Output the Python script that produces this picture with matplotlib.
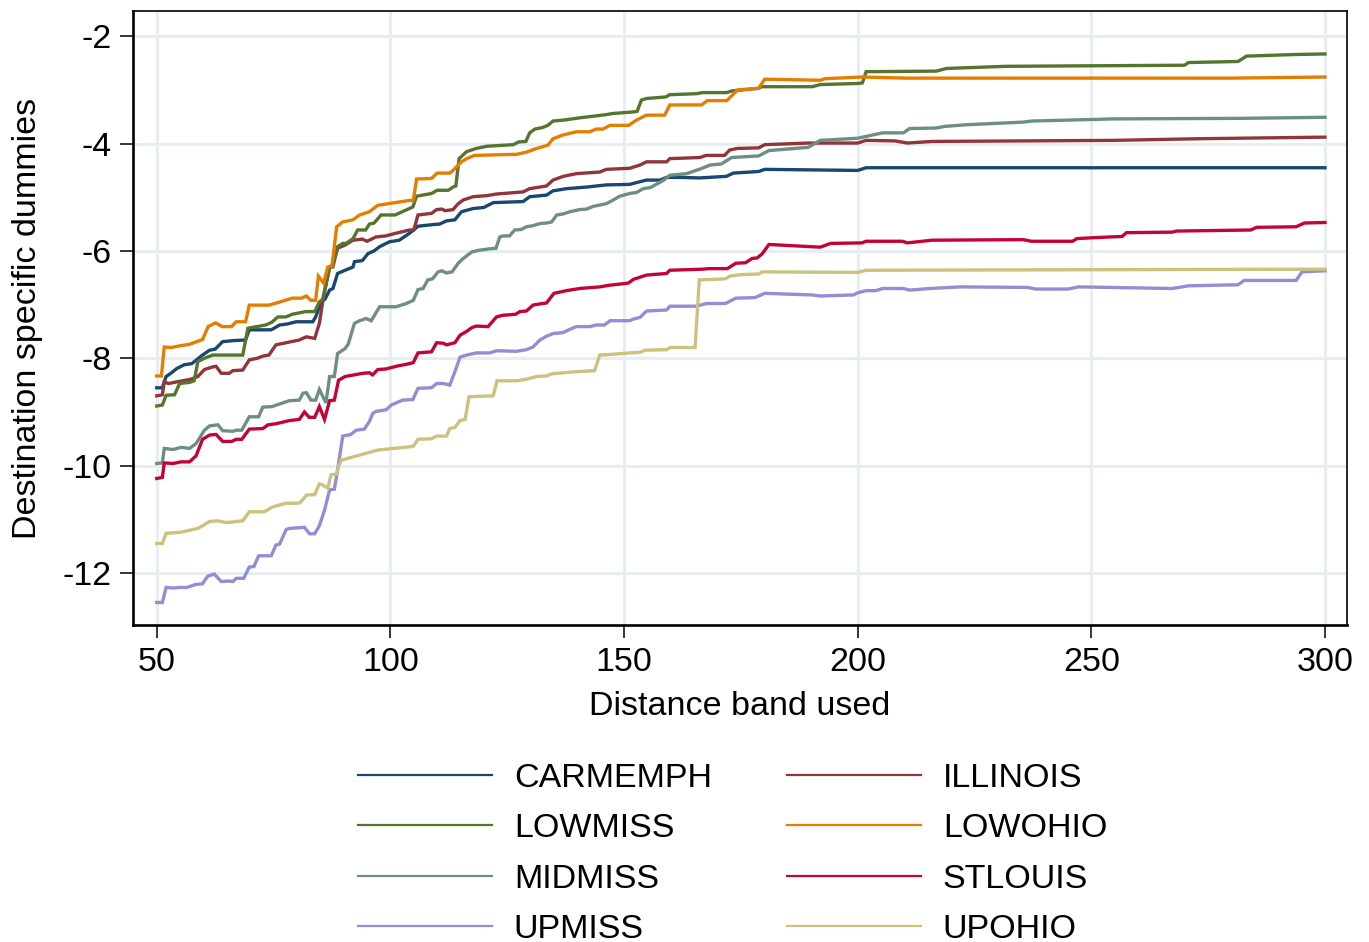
import numpy as np
import matplotlib
matplotlib.use("Agg")
import matplotlib.pyplot as plt
from matplotlib.lines import Line2D

plt.rcParams['font.family'] = ['Liberation Sans', 'DejaVu Sans']
plt.rcParams['axes.unicode_minus'] = False

# (distance band, dummy estimate) pairs per destination
carmemph = [(50,-8.55),(51.2,-8.55),(52,-8.34),(53,-8.28),(54.3,-8.19),(55.9,-8.12),(57.5,-8.1),
            (59.8,-7.94),(61.3,-7.85),(62.5,-7.83),(64.1,-7.69),(66.5,-7.67),(69,-7.66),(69.8,-7.47),
            (74.5,-7.47),(76.3,-7.38),(78,-7.36),(79.8,-7.32),(83.4,-7.32),(84,-7.23),(85.2,-6.95),
            (86,-6.9),(87,-6.73),(87.7,-6.7),(88.7,-6.42),(90.3,-6.36),(92,-6.3),(92.3,-6.2),(94,-6.18),
            (95.2,-6.05),(96.5,-6.0),(97.7,-5.92),(99.8,-5.83),(101.9,-5.8),(104.1,-5.67),(105.9,-5.54),
            (109,-5.51),(110.5,-5.5),(112,-5.44),(113.8,-5.42),(115.2,-5.27),(117.7,-5.21),(120,-5.19),
            (122,-5.1),(128.4,-5.08),(129.8,-4.99),(133.4,-4.96),(134.8,-4.88),(137.7,-4.84),(142,-4.81),
            (146.2,-4.77),(151.2,-4.76),(153.4,-4.71),(154.8,-4.68),(157.7,-4.68),(159.1,-4.63),
            (161.9,-4.63),(166.2,-4.64),(171.9,-4.61),(173.4,-4.55),(178.8,-4.52),(180.1,-4.48),
            (200,-4.5),(201.8,-4.45),(300,-4.45)]

illinois = [(50,-8.7),(51.2,-8.68),(51.6,-8.44),(52.5,-8.47),(54.3,-8.44),(57.3,-8.39),(58.8,-8.34),
            (60.2,-8.21),(62,-8.16),(62.7,-8.15),(63.8,-8.28),(65.5,-8.28),(66.3,-8.23),(68.4,-8.22),
            (69.8,-8.03),(71.5,-8.0),(72.7,-7.96),(74,-7.94),(75.5,-7.75),(77.7,-7.71),(80.5,-7.66),
            (82,-7.6),(83.8,-7.63),(84.8,-7.35),(85.5,-6.95),(86.3,-6.6),(87,-6.3),(87.7,-6.25),
            (88.7,-5.95),(90.3,-5.89),(92,-5.8),(94,-5.78),(95,-5.82),(96.9,-5.74),(99,-5.72),
            (101.2,-5.67),(104.1,-5.61),(105,-5.61),(105.9,-5.33),(108.8,-5.3),(109.9,-5.23),(111,-5.22),
            (111.7,-5.25),(113.4,-5.23),(114.5,-5.12),(115.6,-5.05),(117.7,-4.99),(120.6,-4.97),
            (122.7,-4.94),(128.4,-4.9),(129.8,-4.84),(133.4,-4.79),(134.8,-4.68),(137,-4.61),
            (139.8,-4.56),(144.8,-4.53),(146.2,-4.48),(151.2,-4.46),(153.4,-4.4),(154.8,-4.34),
            (159.1,-4.34),(159.8,-4.28),(166.2,-4.26),(167.6,-4.22),(171.5,-4.22),(172.6,-4.12),
            (174.3,-4.09),(178.8,-4.08),(180.1,-4.02),(189.4,-3.99),(200,-3.99),(201.8,-3.94),
            (208,-3.95),(210.6,-3.99),(215.9,-3.96),(254.9,-3.94),(272.6,-3.91),(281.4,-3.9),(300,-3.88)]

lowmiss = [(50,-8.89),(51.2,-8.87),(52,-8.69),(53.8,-8.68),(54.9,-8.47),(57,-8.45),(58,-8.42),
           (58.8,-8.06),(60.2,-8.0),(62,-7.94),(68.4,-7.94),(69.5,-7.44),(73.3,-7.38),(74.6,-7.33),
           (75.9,-7.23),(77.6,-7.23),(79,-7.18),(81.9,-7.13),(83.8,-7.13),(84.8,-6.95),(85.5,-6.9),
           (87,-6.3),(87.7,-6.3),(88.7,-5.92),(89.8,-5.86),(90.5,-5.86),(92,-5.77),(93,-5.61),
           (94.7,-5.61),(95.5,-5.5),(96.5,-5.48),(98,-5.33),(101,-5.33),(103.3,-5.24),(104.8,-5.18),
           (105.6,-4.98),(108.8,-4.93),(110,-4.87),(112.4,-4.87),(113.4,-4.81),(114,-4.79),
           (114.7,-4.28),(116.3,-4.15),(118.4,-4.09),(120.6,-4.05),(126.3,-4.02),(127.4,-3.97),
           (129,-3.96),(129.8,-3.8),(130.9,-3.73),(132.6,-3.7),(133.7,-3.66),(134.8,-3.58),
           (137.3,-3.56),(140.5,-3.52),(143.4,-3.49),(146.2,-3.46),(147.5,-3.44),(152,-3.41),
           (152.8,-3.4),(153.7,-3.19),(154.8,-3.16),(159,-3.13),(159.7,-3.09),(165.5,-3.07),
           (166.8,-3.05),(172,-3.05),(173,-3.02),(178.8,-2.97),(179.5,-2.94),(190.3,-2.94),
           (192,-2.9),(200,-2.88),(201,-2.87),(201.8,-2.66),(216.8,-2.65),(219,-2.6),(231.9,-2.56),
           (269.9,-2.54),(270.8,-2.49),(281.4,-2.47),(283.2,-2.37),(293.8,-2.34),(300,-2.33)]

lowohio = [(50,-8.33),(51,-8.33),(51.6,-7.79),(53,-7.8),(55.5,-7.76),(57,-7.74),(59.8,-7.65),
           (61,-7.41),(62.6,-7.34),(64,-7.41),(66,-7.41),(67,-7.32),(69,-7.32),(69.8,-7.01),(74,-7.01),
           (76,-6.96),(79,-6.88),(81,-6.88),(82,-6.84),(83,-6.92),(84,-6.92),(84.6,-6.47),(85.7,-6.6),
           (86.6,-6.3),(87.5,-6.28),(88.5,-5.55),(89.8,-5.46),(92,-5.42),(93.4,-5.33),(95.5,-5.27),
           (97.3,-5.15),(101,-5.1),(104,-5.06),(104.9,-5.06),(105.6,-4.66),(108.8,-4.65),(110,-4.55),
           (112.7,-4.55),(113.4,-4.5),(115.2,-4.34),(116.3,-4.28),(118,-4.22),(127,-4.2),(129.1,-4.16),
           (131.3,-4.09),(133.7,-4.03),(134.8,-3.91),(136.9,-3.84),(139.8,-3.78),(142.7,-3.78),
           (144,-3.73),(145.5,-3.73),(147,-3.66),(151,-3.66),(152.7,-3.56),(154.8,-3.47),
           (158.7,-3.47),(159.8,-3.28),(166.6,-3.28),(167.8,-3.2),(172,-3.2),(174.3,-3.0),
           (178.8,-2.97),(180.1,-2.8),(192,-2.82),(193,-2.79),(201,-2.76),(210.6,-2.78),(280,-2.78),
           (300,-2.76)]

midmiss = [(50,-9.96),(51.2,-9.95),(51.6,-9.68),(53.5,-9.7),(55.2,-9.66),(57,-9.68),(58.4,-9.59),
           (60.2,-9.34),(61.3,-9.26),(63.1,-9.24),(64.1,-9.35),(66.3,-9.36),(67,-9.34),(68.2,-9.34),
           (69.8,-9.09),(71.8,-9.09),(72.7,-8.91),(74.7,-8.9),(76.3,-8.85),(78.4,-8.79),(80.5,-8.78),
           (81.3,-8.65),(82,-8.64),(83,-8.78),(84,-8.78),(84.8,-8.58),(86.2,-8.83),(87,-8.34),
           (88,-8.34),(88.7,-7.91),(90.3,-7.82),(91,-7.73),(92.3,-7.35),(93.4,-7.3),(94.8,-7.26),
           (95.9,-7.3),(97.7,-7.04),(101.2,-7.04),(103.4,-6.98),(104.9,-6.92),(105.9,-6.72),(107,-6.7),
           (108,-6.54),(109,-6.52),(110.2,-6.39),(111,-6.37),(112,-6.41),(113.2,-6.39),(114.5,-6.23),
           (115.6,-6.14),(117.4,-6.02),(118.8,-5.99),(121.3,-5.96),(122.6,-5.95),(123.4,-5.74),
           (124.1,-5.72),(125.5,-5.72),(126.6,-5.61),(128,-5.6),(129.1,-5.55),(130.5,-5.53),
           (132,-5.49),(133.4,-5.48),(134.5,-5.46),(135.6,-5.33),(137,-5.31),(138.4,-5.27),
           (140.5,-5.23),(142,-5.22),(143.4,-5.17),(146.2,-5.12),(147.5,-5.06),(149.1,-4.98),
           (151.2,-4.93),(152.7,-4.91),(154.1,-4.84),(155.6,-4.82),(157.3,-4.74),(158.5,-4.68),
           (159.8,-4.59),(163.4,-4.56),(166.4,-4.47),(168.4,-4.4),(170.8,-4.38),(173,-4.26),
           (178.8,-4.23),(181,-4.13),(189.4,-4.07),(192,-3.94),(200,-3.9),(205.3,-3.8),(209.8,-3.8),
           (211.1,-3.72),(216.8,-3.71),(218.6,-3.68),(223,-3.65),(235.4,-3.6),(237.2,-3.58),
           (254.9,-3.54),(281.4,-3.53),(300,-3.51)]

stlouis = [(50,-10.24),(51.2,-10.22),(51.6,-9.95),(53.5,-9.96),(55.2,-9.93),(57,-9.93),(58.4,-9.82),
           (59.8,-9.51),(61.3,-9.43),(62.7,-9.42),(64.1,-9.55),(66,-9.55),(67,-9.51),(68.2,-9.51),
           (69.8,-9.32),(72.7,-9.31),(73.8,-9.24),(75.5,-9.22),(78.4,-9.16),(80.5,-9.14),(81.6,-9.0),
           (82.6,-9.1),(83.8,-9.1),(84.8,-8.9),(85.9,-9.14),(87,-8.79),(88,-8.78),(88.9,-8.41),
           (90.3,-8.34),(94.1,-8.28),(95.5,-8.27),(96.2,-8.31),(97.3,-8.21),(99,-8.2),(101.2,-8.15),
           (104.1,-8.1),(104.9,-8.08),(105.9,-7.9),(108.8,-7.88),(109.9,-7.71),(111.3,-7.72),
           (112,-7.75),(113.8,-7.71),(114.9,-7.57),(116.3,-7.5),(117.4,-7.43),(118.4,-7.4),
           (120.9,-7.41),(122.7,-7.23),(124,-7.2),(126.8,-7.18),(127.7,-7.13),(129.1,-7.12),
           (130.5,-7.01),(131.8,-6.99),(133.4,-6.97),(135,-6.79),(137.7,-6.74),(140.5,-6.7),
           (144.8,-6.67),(146.8,-6.64),(150.9,-6.6),(152,-6.53),(154.8,-6.45),(159.1,-6.42),
           (159.8,-6.36),(166.9,-6.34),(168.1,-6.33),(172.1,-6.33),(173.9,-6.23),(176,-6.22),
           (177.4,-6.14),(178.5,-6.13),(179.6,-6.05),(181,-5.88),(192,-5.93),(194.2,-5.86),
           (200.9,-5.85),(201.8,-5.82),(209.6,-5.82),(210.6,-5.85),(215.9,-5.8),(235.4,-5.79),
           (237.2,-5.82),(246,-5.82),(246.9,-5.77),(251.3,-5.75),(256.6,-5.73),(257.5,-5.66),
           (267.3,-5.65),(268.2,-5.63),(284.1,-5.61),(285.4,-5.56),(293.8,-5.55),(295.6,-5.48),
           (300,-5.47)]

upmiss = [(50,-12.55),(51.2,-12.55),(52,-12.27),(53.5,-12.28),(54.9,-12.27),(56.5,-12.27),
          (58.1,-12.22),(59.8,-12.2),(60.9,-12.06),(62.3,-12.02),(63.8,-12.16),(65.5,-12.15),
          (66.3,-12.16),(67,-12.1),(68.6,-12.1),(69.8,-11.89),(70.8,-11.88),(71.8,-11.68),
          (74.5,-11.68),(75.5,-11.48),(76.3,-11.46),(77.7,-11.19),(78.4,-11.17),(81.6,-11.15),
          (82.7,-11.27),(83.8,-11.27),(84.8,-11.12),(85.9,-10.83),(87,-10.45),(88,-10.44),
          (88.7,-10.08),(89.8,-9.45),(91.5,-9.42),(92.7,-9.34),(94.4,-9.32),(95.5,-9.18),(96.2,-9.03),
          (96.9,-8.99),(99.1,-8.96),(100.2,-8.87),(102.6,-8.78),(104.8,-8.77),(105.9,-8.56),
          (108.8,-8.55),(109.9,-8.47),(111.3,-8.47),(112.7,-8.5),(113.8,-8.25),(114.9,-7.98),
          (116.3,-7.94),(118.4,-7.9),(121.3,-7.9),(122.7,-7.86),(127,-7.87),(129.1,-7.84),
          (130.5,-7.79),(132,-7.66),(133.4,-7.59),(134.8,-7.54),(137,-7.52),(138.4,-7.46),
          (139.8,-7.41),(142.7,-7.41),(144.1,-7.38),(145.8,-7.38),(147,-7.3),(151.2,-7.3),(152,-7.27),
          (153.4,-7.24),(154.8,-7.12),(159.1,-7.1),(159.8,-7.03),(165.5,-7.03),(167.6,-6.98),
          (171.7,-6.98),(173.9,-6.88),(178,-6.87),(180.1,-6.79),(190.3,-6.82),(192,-6.84),
          (199.1,-6.82),(200,-6.78),(201.8,-6.74),(203.9,-6.74),(205.3,-6.7),(209.8,-6.7),
          (211.1,-6.73),(215.5,-6.7),(222.1,-6.67),(236.3,-6.68),(238.1,-6.71),(245,-6.71),
          (247.3,-6.67),(267.3,-6.7),(270.8,-6.65),(281.4,-6.63),(282.7,-6.55),(293.8,-6.55),
          (295.1,-6.39),(300,-6.37)]

upohio = [(50,-11.45),(51.2,-11.45),(52,-11.26),(54,-11.25),(55.2,-11.24),(57.3,-11.2),(58.8,-11.17),
          (60.2,-11.1),(61.3,-11.04),(63.1,-11.03),(64.8,-11.06),(66.3,-11.05),(67,-11.04),
          (68.4,-11.03),(69.8,-10.86),(73,-10.86),(74.8,-10.77),(77.6,-10.7),(80.5,-10.7),
          (81.3,-10.63),(82,-10.55),(83.8,-10.54),(84.8,-10.34),(85.5,-10.36),(86.6,-10.42),
          (87.3,-10.17),(88.4,-10.16),(89.4,-9.9),(90.3,-9.88),(92.7,-9.82),(94.8,-9.77),(97.3,-9.71),
          (100.5,-9.68),(104.1,-9.65),(104.9,-9.64),(105.9,-9.51),(108.8,-9.5),(109.9,-9.45),
          (112,-9.45),(112.7,-9.31),(113.8,-9.29),(114.9,-9.16),(116,-9.14),(116.8,-8.72),
          (118.4,-8.71),(122,-8.7),(122.8,-8.42),(127,-8.42),(129.1,-8.39),(131.3,-8.34),
          (133.4,-8.33),(134.5,-8.29),(137,-8.27),(139.8,-8.25),(143.7,-8.23),(144.8,-7.94),
          (146.8,-7.93),(151.2,-7.9),(153.4,-7.89),(154.5,-7.85),(159.1,-7.84),(159.8,-7.8),
          (165.2,-7.8),(166.1,-6.54),(171.7,-6.52),(172.6,-6.47),(175.2,-6.44),(178.8,-6.43),
          (179.6,-6.39),(200,-6.4),(201.8,-6.36),(300,-6.34)]

names = ["CARMEMPH", "ILLINOIS", "LOWMISS", "LOWOHIO", "MIDMISS", "STLOUIS", "UPMISS", "UPOHIO"]
series = [carmemph, illinois, lowmiss, lowohio, midmiss, stlouis, upmiss, upohio]
# stata s2color palette
colors = ["#1a476f", "#90353b", "#55752f", "#e37e00", "#6e8e84", "#c10534", "#938dd2", "#cac27e"]

FS = 24.5

fig = plt.figure(figsize=(13.69, 9.42), dpi=100)
ax = fig.add_axes([0.0971, 0.3365, 0.8868, 0.6518])

for data, n, c in zip(series, names, colors):
    d = np.array(data)
    ax.plot(d[:, 0], d[:, 1], color=c, lw=2.4, label=n, solid_joinstyle='miter')

ax.set_xlim(44.9, 304.7)
ax.set_ylim(-12.97, -1.53)
ax.set_xticks([50, 100, 150, 200, 250, 300])
ax.set_yticks([-12, -10, -8, -6, -4, -2])
ax.grid(True, color="#e6eef1", lw=2.2)
ax.set_axisbelow(True)
ax.tick_params(labelsize=FS, length=9.5, width=1.1, pad=6, color='black')
for s in ['left', 'bottom']:
    ax.spines[s].set_linewidth(1.9)
for s in ['top', 'right']:
    ax.spines[s].set_linewidth(1.2)

ax.set_xlabel("Distance band used", fontsize=FS, labelpad=10)
ax.set_ylabel("Destination specific dummies", fontsize=FS, labelpad=14)

# legend: two columns, filled row by row
handles = [Line2D([], [], color=c, lw=1.6) for c in colors]
order = [0, 2, 4, 6, 1, 3, 5, 7]
fig.legend([handles[i] for i in order], [names[i] for i in order], ncol=2, frameon=False,
           loc='upper center', bbox_to_anchor=(0.535, 1 - 732 / 942), fontsize=FS,
           handlelength=3.94, handletextpad=0.65, columnspacing=2.2, labelspacing=0.575)

fig.savefig("out.png", dpi=100)
